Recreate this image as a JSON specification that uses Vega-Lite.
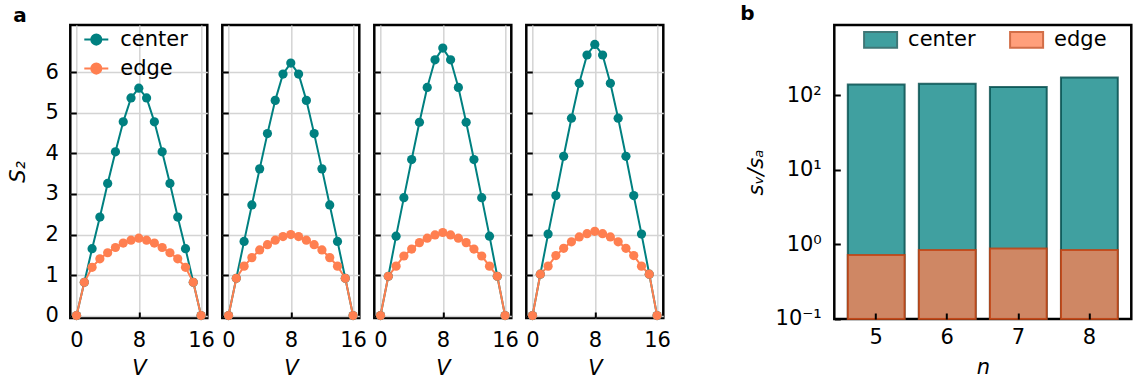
{
"$schema":"https://vega.github.io/schema/vega-lite/v6.json",
"background":"white",
"padding":{"left":6.3,"top":2,"right":0,"bottom":0},
"datasets":{
"a":[
{"n":5,"t":"center","V":0,"S":0},{"n":5,"t":"center","V":1,"S":0.82},{"n":5,"t":"center","V":2,"S":1.65},{"n":5,"t":"center","V":3,"S":2.43},{"n":5,"t":"center","V":4,"S":3.26},{"n":5,"t":"center","V":5,"S":4.04},{"n":5,"t":"center","V":6,"S":4.78},{"n":5,"t":"center","V":7,"S":5.37},{"n":5,"t":"center","V":8,"S":5.61},{"n":5,"t":"center","V":9,"S":5.37},{"n":5,"t":"center","V":10,"S":4.78},{"n":5,"t":"center","V":11,"S":4.04},{"n":5,"t":"center","V":12,"S":3.26},{"n":5,"t":"center","V":13,"S":2.43},{"n":5,"t":"center","V":14,"S":1.65},{"n":5,"t":"center","V":15,"S":0.82},{"n":5,"t":"center","V":16,"S":0},
{"n":5,"t":"edge","V":0,"S":0},{"n":5,"t":"edge","V":1,"S":0.82},{"n":5,"t":"edge","V":2,"S":1.19},{"n":5,"t":"edge","V":3,"S":1.40},{"n":5,"t":"edge","V":4,"S":1.55},{"n":5,"t":"edge","V":5,"S":1.68},{"n":5,"t":"edge","V":6,"S":1.79},{"n":5,"t":"edge","V":7,"S":1.86},{"n":5,"t":"edge","V":8,"S":1.91},{"n":5,"t":"edge","V":9,"S":1.86},{"n":5,"t":"edge","V":10,"S":1.79},{"n":5,"t":"edge","V":11,"S":1.68},{"n":5,"t":"edge","V":12,"S":1.55},{"n":5,"t":"edge","V":13,"S":1.40},{"n":5,"t":"edge","V":14,"S":1.19},{"n":5,"t":"edge","V":15,"S":0.82},{"n":5,"t":"edge","V":16,"S":0},
{"n":6,"t":"center","V":0,"S":0},{"n":6,"t":"center","V":1,"S":0.92},{"n":6,"t":"center","V":2,"S":1.83},{"n":6,"t":"center","V":3,"S":2.73},{"n":6,"t":"center","V":4,"S":3.62},{"n":6,"t":"center","V":5,"S":4.49},{"n":6,"t":"center","V":6,"S":5.31},{"n":6,"t":"center","V":7,"S":5.96},{"n":6,"t":"center","V":8,"S":6.23},{"n":6,"t":"center","V":9,"S":5.96},{"n":6,"t":"center","V":10,"S":5.31},{"n":6,"t":"center","V":11,"S":4.49},{"n":6,"t":"center","V":12,"S":3.62},{"n":6,"t":"center","V":13,"S":2.73},{"n":6,"t":"center","V":14,"S":1.83},{"n":6,"t":"center","V":15,"S":0.92},{"n":6,"t":"center","V":16,"S":0},
{"n":6,"t":"edge","V":0,"S":0},{"n":6,"t":"edge","V":1,"S":0.92},{"n":6,"t":"edge","V":2,"S":1.22},{"n":6,"t":"edge","V":3,"S":1.43},{"n":6,"t":"edge","V":4,"S":1.62},{"n":6,"t":"edge","V":5,"S":1.75},{"n":6,"t":"edge","V":6,"S":1.86},{"n":6,"t":"edge","V":7,"S":1.95},{"n":6,"t":"edge","V":8,"S":2.00},{"n":6,"t":"edge","V":9,"S":1.95},{"n":6,"t":"edge","V":10,"S":1.86},{"n":6,"t":"edge","V":11,"S":1.75},{"n":6,"t":"edge","V":12,"S":1.62},{"n":6,"t":"edge","V":13,"S":1.43},{"n":6,"t":"edge","V":14,"S":1.22},{"n":6,"t":"edge","V":15,"S":0.92},{"n":6,"t":"edge","V":16,"S":0},
{"n":7,"t":"center","V":0,"S":0},{"n":7,"t":"center","V":1,"S":0.97},{"n":7,"t":"center","V":2,"S":1.96},{"n":7,"t":"center","V":3,"S":2.91},{"n":7,"t":"center","V":4,"S":3.85},{"n":7,"t":"center","V":5,"S":4.77},{"n":7,"t":"center","V":6,"S":5.63},{"n":7,"t":"center","V":7,"S":6.31},{"n":7,"t":"center","V":8,"S":6.60},{"n":7,"t":"center","V":9,"S":6.31},{"n":7,"t":"center","V":10,"S":5.63},{"n":7,"t":"center","V":11,"S":4.77},{"n":7,"t":"center","V":12,"S":3.85},{"n":7,"t":"center","V":13,"S":2.91},{"n":7,"t":"center","V":14,"S":1.96},{"n":7,"t":"center","V":15,"S":0.97},{"n":7,"t":"center","V":16,"S":0},
{"n":7,"t":"edge","V":0,"S":0},{"n":7,"t":"edge","V":1,"S":0.97},{"n":7,"t":"edge","V":2,"S":1.22},{"n":7,"t":"edge","V":3,"S":1.47},{"n":7,"t":"edge","V":4,"S":1.64},{"n":7,"t":"edge","V":5,"S":1.80},{"n":7,"t":"edge","V":6,"S":1.91},{"n":7,"t":"edge","V":7,"S":1.99},{"n":7,"t":"edge","V":8,"S":2.05},{"n":7,"t":"edge","V":9,"S":1.99},{"n":7,"t":"edge","V":10,"S":1.91},{"n":7,"t":"edge","V":11,"S":1.80},{"n":7,"t":"edge","V":12,"S":1.64},{"n":7,"t":"edge","V":13,"S":1.47},{"n":7,"t":"edge","V":14,"S":1.22},{"n":7,"t":"edge","V":15,"S":0.97},{"n":7,"t":"edge","V":16,"S":0},
{"n":8,"t":"center","V":0,"S":0},{"n":8,"t":"center","V":1,"S":1.02},{"n":8,"t":"center","V":2,"S":2.01},{"n":8,"t":"center","V":3,"S":2.96},{"n":8,"t":"center","V":4,"S":3.93},{"n":8,"t":"center","V":5,"S":4.87},{"n":8,"t":"center","V":6,"S":5.73},{"n":8,"t":"center","V":7,"S":6.43},{"n":8,"t":"center","V":8,"S":6.69},{"n":8,"t":"center","V":9,"S":6.43},{"n":8,"t":"center","V":10,"S":5.73},{"n":8,"t":"center","V":11,"S":4.87},{"n":8,"t":"center","V":12,"S":3.93},{"n":8,"t":"center","V":13,"S":2.96},{"n":8,"t":"center","V":14,"S":2.01},{"n":8,"t":"center","V":15,"S":1.02},{"n":8,"t":"center","V":16,"S":0},
{"n":8,"t":"edge","V":0,"S":0},{"n":8,"t":"edge","V":1,"S":1.02},{"n":8,"t":"edge","V":2,"S":1.22},{"n":8,"t":"edge","V":3,"S":1.48},{"n":8,"t":"edge","V":4,"S":1.66},{"n":8,"t":"edge","V":5,"S":1.82},{"n":8,"t":"edge","V":6,"S":1.94},{"n":8,"t":"edge","V":7,"S":2.02},{"n":8,"t":"edge","V":8,"S":2.08},{"n":8,"t":"edge","V":9,"S":2.02},{"n":8,"t":"edge","V":10,"S":1.94},{"n":8,"t":"edge","V":11,"S":1.82},{"n":8,"t":"edge","V":12,"S":1.66},{"n":8,"t":"edge","V":13,"S":1.48},{"n":8,"t":"edge","V":14,"S":1.22},{"n":8,"t":"edge","V":15,"S":1.02},{"n":8,"t":"edge","V":16,"S":0}
],
"b":[
{"n":5,"t":"center","r":140},{"n":6,"t":"center","r":143},{"n":7,"t":"center","r":130},{"n":8,"t":"center","r":174},
{"n":5,"t":"edge","r":0.72},{"n":6,"t":"edge","r":0.84},{"n":7,"t":"edge","r":0.88},{"n":8,"t":"edge","r":0.84}
]
},
"hconcat":[
{
"hconcat":[
{
"width":137,"height":293,
"title":{"text":"a","anchor":"start","frame":"group","dx":-57,"offset":-1},
"encoding":{
"x":{"field":"V","type":"quantitative","scale":{"domain":[-0.8,16.8],"nice":false,"zero":false},"axis":{"values":[0,8,16],"title":"V","titleFontStyle":"italic","labelPadding":17.5,"titlePadding":7,"grid":true}},
"y":{"field":"S","type":"quantitative","scale":{"domain":[-0.06,7.17],"nice":false,"zero":false},"axis":{"values":[0,1,2,3,4,5,6],"title":"S₂","titleFontStyle":"italic","labelPadding":18,"titlePadding":16,"grid":true}},
"color":{"field":"t","type":"nominal","scale":{"domain":["center","edge"],"range":["#008080","#ff7f50"]},"legend":{"orient":"none","legendX":13,"legendY":1.6,"title":null,"symbolType":"M-1,0H1M-0.42,0A0.42,0.42 0 1,0 0.42,0A0.42,0.42 0 1,0 -0.42,0Z","symbolSize":576,"symbolStrokeWidth":2,"labelFontSize":21,"labelOffset":11,"rowPadding":6,"padding":0}}
},
"layer":[
{"data":{"name":"a"},"transform":[{"filter":"datum.n == 5"}],"mark":{"type":"line","strokeWidth":2}},
{"data":{"name":"a"},"transform":[{"filter":"datum.n == 5"}],"mark":{"type":"point","filled":true,"size":85,"opacity":1}},
{"data":{"values":[{"label":"n=5"}]},"mark":{"type":"text","fontSize":21},"encoding":{"x":{"datum":8,"type":"quantitative"},"y":{"datum":0.55,"type":"quantitative"},"text":{"field":"label"},"color":{"value":"black"}}}
]
},
{
"width":137,"height":293,
"encoding":{
"x":{"field":"V","type":"quantitative","scale":{"domain":[-0.8,16.8],"nice":false,"zero":false},"axis":{"values":[0,8,16],"title":"V","titleFontStyle":"italic","labelPadding":17.5,"titlePadding":7,"grid":true}},
"y":{"field":"S","type":"quantitative","scale":{"domain":[-0.06,7.17],"nice":false,"zero":false},"axis":{"values":[0,1,2,3,4,5,6],"title":null,"labels":false,"grid":true}},
"color":{"field":"t","type":"nominal","scale":{"domain":["center","edge"],"range":["#008080","#ff7f50"]},"legend":null}
},
"layer":[
{"data":{"name":"a"},"transform":[{"filter":"datum.n == 6"}],"mark":{"type":"line","strokeWidth":2}},
{"data":{"name":"a"},"transform":[{"filter":"datum.n == 6"}],"mark":{"type":"point","filled":true,"size":85,"opacity":1}},
{"data":{"values":[{"label":"n=6"}]},"mark":{"type":"text","fontSize":21},"encoding":{"x":{"datum":8,"type":"quantitative"},"y":{"datum":0.55,"type":"quantitative"},"text":{"field":"label"},"color":{"value":"black"}}}
]
},
{
"width":137,"height":293,
"encoding":{
"x":{"field":"V","type":"quantitative","scale":{"domain":[-0.8,16.8],"nice":false,"zero":false},"axis":{"values":[0,8,16],"title":"V","titleFontStyle":"italic","labelPadding":17.5,"titlePadding":7,"grid":true}},
"y":{"field":"S","type":"quantitative","scale":{"domain":[-0.06,7.17],"nice":false,"zero":false},"axis":{"values":[0,1,2,3,4,5,6],"title":null,"labels":false,"grid":true}},
"color":{"field":"t","type":"nominal","scale":{"domain":["center","edge"],"range":["#008080","#ff7f50"]},"legend":null}
},
"layer":[
{"data":{"name":"a"},"transform":[{"filter":"datum.n == 7"}],"mark":{"type":"line","strokeWidth":2}},
{"data":{"name":"a"},"transform":[{"filter":"datum.n == 7"}],"mark":{"type":"point","filled":true,"size":85,"opacity":1}},
{"data":{"values":[{"label":"n=7"}]},"mark":{"type":"text","fontSize":21},"encoding":{"x":{"datum":8,"type":"quantitative"},"y":{"datum":0.55,"type":"quantitative"},"text":{"field":"label"},"color":{"value":"black"}}}
]
},
{
"width":137,"height":293,
"encoding":{
"x":{"field":"V","type":"quantitative","scale":{"domain":[-0.8,16.8],"nice":false,"zero":false},"axis":{"values":[0,8,16],"title":"V","titleFontStyle":"italic","labelPadding":17.5,"titlePadding":7,"grid":true}},
"y":{"field":"S","type":"quantitative","scale":{"domain":[-0.06,7.17],"nice":false,"zero":false},"axis":{"values":[0,1,2,3,4,5,6],"title":null,"labels":false,"grid":true}},
"color":{"field":"t","type":"nominal","scale":{"domain":["center","edge"],"range":["#008080","#ff7f50"]},"legend":null}
},
"layer":[
{"data":{"name":"a"},"transform":[{"filter":"datum.n == 8"}],"mark":{"type":"line","strokeWidth":2}},
{"data":{"name":"a"},"transform":[{"filter":"datum.n == 8"}],"mark":{"type":"point","filled":true,"size":85,"opacity":1}},
{"data":{"values":[{"label":"n=8"}]},"mark":{"type":"text","fontSize":21},"encoding":{"x":{"datum":8,"type":"quantitative"},"y":{"datum":0.55,"type":"quantitative"},"text":{"field":"label"},"color":{"value":"black"}}}
]
}
],
"spacing":15,
"bounds":"flush",
"resolve":{"scale":{"color":"independent","x":"independent","y":"independent"},"legend":{"color":"independent"}}
},
{
"width":297,"height":294,
"title":{"text":"b","anchor":"start","frame":"group","dx":-94,"offset":-2},
"data":{"name":"b"},
"mark":{"type":"bar","fillOpacity":0.75,"strokeOpacity":0.8,"strokeWidth":2},
"encoding":{
"x":{"field":"n","type":"ordinal","scale":{"paddingInner":0.2,"paddingOuter":0.19},"axis":{"title":"n","titleFontStyle":"italic","labelAngle":0,"labelPadding":14,"titlePadding":9,"grid":false,"zindex":1}},
"y":{"field":"r","type":"quantitative","stack":null,"scale":{"type":"log","domain":[0.1,880],"nice":false},"axis":{"values":[0.1,1,10,100],"labelExpr":"datum.value >= 99 ? '10²' : datum.value >= 9 ? '10¹' : datum.value >= 0.9 ? '10⁰' : '10⁻¹'","title":"sᵥ/sₐ","titleFontStyle":"italic","labelPadding":19,"titlePadding":9,"grid":false,"zindex":1}},
"y2":{"datum":0.1},
"fill":{"field":"t","type":"nominal","scale":{"domain":["center","edge"],"range":["#008080","#ff7f50"]},"legend":{"orient":"none","legendX":28.8,"legendY":-3,"direction":"horizontal","title":null,"symbolType":"M-1,-0.47H1V0.47H-1Z","symbolSize":1089,"symbolStrokeWidth":2,"symbolOpacity":0.75,"labelFontSize":21,"labelOffset":10,"columnPadding":30,"padding":0}},
"stroke":{"field":"t","type":"nominal","scale":{"domain":["center","edge"],"range":["#004a4a","#c43e0c"]},"legend":{"orient":"none","legendX":28.8,"legendY":-3,"direction":"horizontal","title":null,"symbolType":"M-1,-0.47H1V0.47H-1Z","symbolSize":1089,"symbolStrokeWidth":2,"symbolOpacity":0.75,"labelFontSize":21,"labelOffset":10,"columnPadding":30,"padding":0}}
}
}
],
"spacing":66,
"bounds":"full",
"resolve":{"scale":{"color":"independent","fill":"independent","stroke":"independent","x":"independent","y":"independent"},"legend":{"color":"independent","fill":"independent","stroke":"independent"}},
"config":{
"font":"DejaVu Sans",
"view":{"stroke":"black","strokeWidth":2.5},
"axis":{"domain":false,"tickColor":"black","tickWidth":2,"tickSize":-6,"labelFont":"DejaVu Sans","labelFontSize":21,"labelColor":"black","titleFont":"DejaVu Sans","titleFontSize":21,"titleFontWeight":"normal","titleColor":"black","gridColor":"#d4d4d4","gridWidth":1.5,"labelFlush":false,"labelOverlap":false},
"legend":{"labelFont":"DejaVu Sans","labelFontSize":21,"labelColor":"black"},
"title":{"font":"DejaVu Sans","fontSize":20,"fontWeight":"bold","color":"black"},
"text":{"font":"DejaVu Sans"}
}
}
